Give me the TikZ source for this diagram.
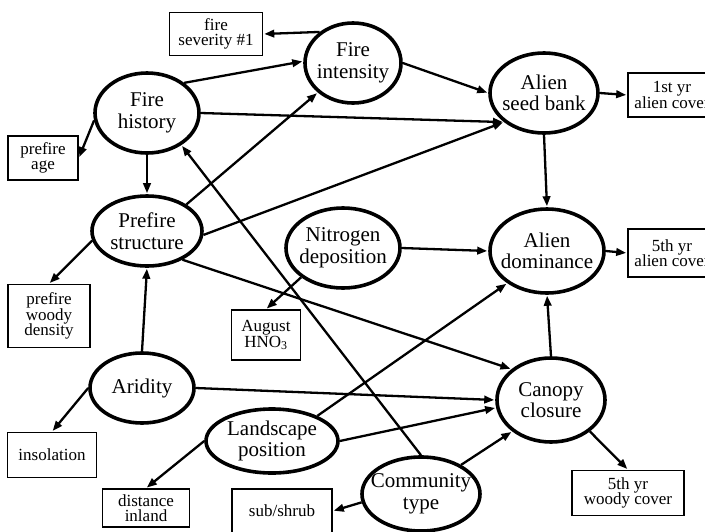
\documentclass[tikz,border=0pt]{standalone}
\usepackage{fontspec}
\setmainfont{Liberation Serif}
\usetikzlibrary{shapes.geometric,arrows.meta}
\tikzset{
  ell/.style={draw, ellipse, line width=3.6pt, inner sep=0pt},
  etxt/.style={align=center, font=\fontsize{21}{21.5}\selectfont, inner sep=0pt},
  obs/.style={draw, rectangle, line width=1.6pt, align=center, inner sep=1pt,
    font=\fontsize{17}{15.5}\selectfont},
  arr/.style={line width=2.3pt, -{Triangle[length=10pt,width=7.5pt]}, shorten >=1pt}
}
\newcommand\ellnode[6]{%
  \node[ell, minimum width=#4pt, minimum height=#5pt] (#1) at (#2) {};
  \node[etxt] at (#1) {#3};}
\begin{document}
\begin{tikzpicture}[x=1pt,y=-1pt]
\useasboundingbox (0,0) rectangle (705,531);
% latent nodes
\ellnode{fint}{353,63}{Fire\\intensity}{96}{80}{}
\ellnode{fhist}{147,113}{Fire\\history}{104}{80}{}
\ellnode{pstr}{147,231}{Prefire\\structure}{110}{70}{}
\ellnode{sbank}{544,93}{Alien\\seed bank}{108}{80}{}
\ellnode{adom}{547,251}{Alien\\dominance}{114}{84}{}
\ellnode{ndep}{343,248}{Nitrogen\\deposition}{114}{80}{}
\ellnode{arid}{142,388}{Aridity}{104}{70}{}
\ellnode{land}{272,441}{Landscape\\position}{132}{64}{}
\ellnode{canopy}{551,400}{Canopy\\closure}{108}{84}{}
\ellnode{comm}{421,494}{Community\\type}{118}{74}{}
% observed boxes
\node[obs, minimum width=93pt, minimum height=43pt] (fsev) at (216,34) {fire\\severity \#1};
\node[obs, minimum width=70pt, minimum height=44pt] (page) at (43,158) {prefire\\age};
\node[obs, minimum width=88pt, minimum height=44pt] (ay1) at (672,95) {1st yr\\alien cover};
\node[obs, minimum width=88pt, minimum height=48pt] (ay5) at (672,253) {5th yr\\alien cover};
\node[obs, minimum width=82pt, minimum height=63pt] (pwood) at (49,316) {prefire\\woody\\density};
\node[obs, minimum width=69pt, minimum height=50pt] (hno) at (266,335) {August\\HNO\textsubscript{3}};
\node[obs, minimum width=89pt, minimum height=45pt] (insol) at (52,455) {insolation};
\node[obs, minimum width=87pt, minimum height=38pt] (dist) at (146,508) {distance\\inland};
\node[obs, minimum width=100pt, minimum height=44pt] (sub) at (282,511) {sub/shrub};
\node[obs, minimum width=112pt, minimum height=45pt] (wcov) at (628,493) {5th yr\\woody cover};
% connectors
\draw[arr] (fint.137) -- (fsev.east);
\draw[arr] (fhist.39) -- (fint.178);
\draw[arr] (fhist.188) -- (page.east);
\draw[arr] (fhist.east) -- (sbank.216);
\draw[arr] (fhist.south) -- (pstr.north);
\draw[arr] (pstr.34) -- (fint.220);
\draw[arr] (pstr.-4) -- (sbank.216);
\draw[arr] (pstr.190) -- (pwood.north);
\draw[arr] (pstr.-39) -- (canopy.142);
\draw[arr] (fint.east) -- (sbank.west);
\draw[arr] (sbank.east) -- (ay1.west);
\draw[arr] (sbank.south) -- (adom.north);
\draw[arr] (ndep.east) -- (adom.west);
\draw[arr] (ndep.215) -- (hno.north);
\draw[arr] (adom.east) -- (ay5.west);
\draw[arr] (canopy.north) -- (adom.south);
\draw[arr] (canopy.-39) -- (wcov.north);
\draw[arr] (arid.north) -- (pstr.south);
\draw[arr] (arid.west) -- (insol.north);
\draw[arr] (arid.east) -- (canopy.west);
\draw[arr] (land.29) -- (adom.219);
\draw[arr] (land.east) -- (canopy.188);
\draw[arr] (land.west) -- (dist.north);
\draw[arr] (comm.36) -- (canopy.219);
\draw[arr] (comm.188) -- (sub.east);
\draw[arr] (comm.north) -- (fhist.317);
\end{tikzpicture}
\end{document}
